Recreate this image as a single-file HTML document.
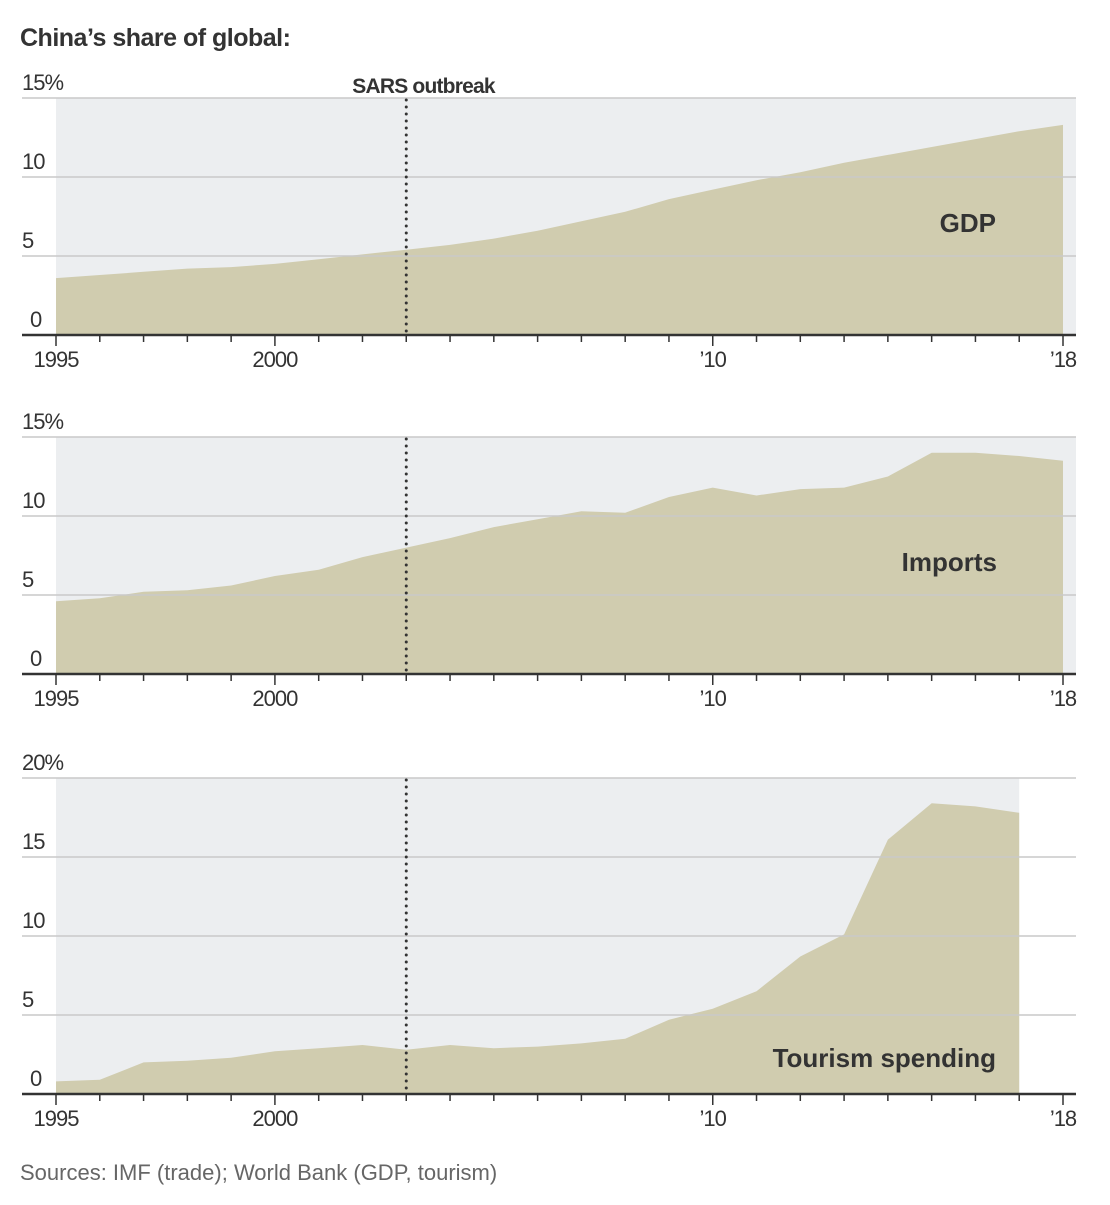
<!DOCTYPE html>
<html><head><meta charset="utf-8">
<style>
body{margin:0;background:#fff;width:1110px;height:1200px;overflow:hidden;font-family:"Liberation Sans",sans-serif;}
svg text{font-family:"Liberation Sans",sans-serif;}
</style></head>
<body>
<svg id="chart" width="1110" height="1200" xmlns="http://www.w3.org/2000/svg">
<text x="20" y="46" font-size="25" font-weight="bold" fill="#333" letter-spacing="-0.5">China’s share of global:</text>
<text x="20" y="1180" font-size="22" fill="#666">Sources: IMF (trade); World Bank (GDP, tourism)</text>
</svg>
<script>
const years = [1995,1996,1997,1998,1999,2000,2001,2002,2003,2004,2005,2006,2007,2008,2009,2010,2011,2012,2013,2014,2015,2016,2017,2018];
const gdpValues = [3.6,3.8,4.0,4.2,4.3,4.5,4.8,5.1,5.4,5.7,6.1,6.6,7.2,7.8,8.6,9.2,9.8,10.3,10.9,11.4,11.9,12.4,12.9,13.3];
const importValues = [4.6,4.8,5.2,5.3,5.6,6.2,6.6,7.4,8.0,8.6,9.3,9.8,10.3,10.2,11.2,11.8,11.3,11.7,11.8,12.5,14.0,14.0,13.8,13.5];
const tourismValues = [0.8,0.9,2.0,2.1,2.3,2.7,2.9,3.1,2.8,3.1,2.9,3.0,3.2,3.5,4.7,5.4,6.5,8.7,10.1,16.1,18.4,18.2,17.8];
const xTickLabels = ["1995","2000","’10","’18"];
const xTickYears = [1995,2000,2010,2018];
const gdpTicks = ["0","5","10","15%"];
const importTicks = ["0","5","10","15%"];
const tourismTicks = ["0","5","10","15","20%"];
const sarsYear = 2003;

const NS="http://www.w3.org/2000/svg";
const svg=document.getElementById('chart');
function el(tag,attrs,parent){const e=document.createElementNS(NS,tag);for(const k in attrs)e.setAttribute(k,attrs[k]);(parent||svg).appendChild(e);return e;}
const xScale=y=>56+(y-1995)*(1063-56)/23;

function panel(name,values,ticks,maxV,zeroY,label,lx,ly,showSars){
  const g=el('g',{});
  
  
  const yScale=v=>zeroY-v*(79/5);
  const lastYear=years[values.length-1];
  const bg=el('rect',{x:56,y:yScale(maxV),width:(lastYear===2018?1076:xScale(lastYear))-56,height:zeroY-yScale(maxV),fill:'#eceef0'},g);
  
  
  let d='M'+xScale(years[0])+','+zeroY;
  values.forEach((v,i)=>{d+=' L'+xScale(years[i]).toFixed(1)+','+yScale(v).toFixed(1);});
  d+=' L'+xScale(lastYear)+','+zeroY+' Z';
  const area=el('path',{d:d,fill:'#d0ccaf'},g);
  
  
  ticks.forEach((t,i)=>{
    const y=yScale(i*5);
    if(i>0){const gl=el('line',{x1:22,x2:1076,y1:y,y2:y,stroke:'#c9c9c9','stroke-width':1.5},g);
      
      }
    const tx=el('text',{x:i===0?30:22,y:y-8,'font-size':22,fill:'#333','letter-spacing':'-1'},g);
    tx.textContent=t;
    
    
  });
  if(showSars||true){
    const sx=xScale(sarsYear);
    const sl=el('line',{x1:sx,x2:sx,y1:yScale(maxV)+2,y2:zeroY-2,stroke:'#333','stroke-width':3,'stroke-dasharray':'0 7','stroke-linecap':'round'},g);
    
    
  }
  const ax=el('line',{x1:22,x2:1076,y1:zeroY,y2:zeroY,stroke:'#333','stroke-width':2.5},g);
  
  
  years.forEach(yr=>{
    const major=xTickYears.includes(yr);
    const tk=el('line',{x1:xScale(yr),x2:xScale(yr),y1:zeroY,y2:zeroY+(major?11:7),stroke:'#333','stroke-width':1.5},g);
    
    
  });
  xTickLabels.forEach((l,i)=>{
    const tx=el('text',{x:xScale(xTickYears[i]),y:zeroY+32,'font-size':22,fill:'#333','text-anchor':'middle','letter-spacing':'-1'},g);
    tx.textContent=l;
    
    
  });
  const lb=el('text',{x:lx,y:ly,'font-size':26,'font-weight':'bold',fill:'#333','text-anchor':'end'},g);
  lb.textContent=label;
  
  
}
panel('gdp',gdpValues,gdpTicks,15,335,'GDP',996,232);
panel('imports',importValues,importTicks,15,674,'Imports',997,571);
panel('tourism',tourismValues,tourismTicks,20,1094,'Tourism spending',996,1067);
const sars=el('text',{x:xScale(sarsYear)-54,y:93,'font-size':21,'font-weight':'bold',fill:'#333','letter-spacing':'-0.8'});
sars.textContent='SARS outbreak';


</script>
</body></html>
